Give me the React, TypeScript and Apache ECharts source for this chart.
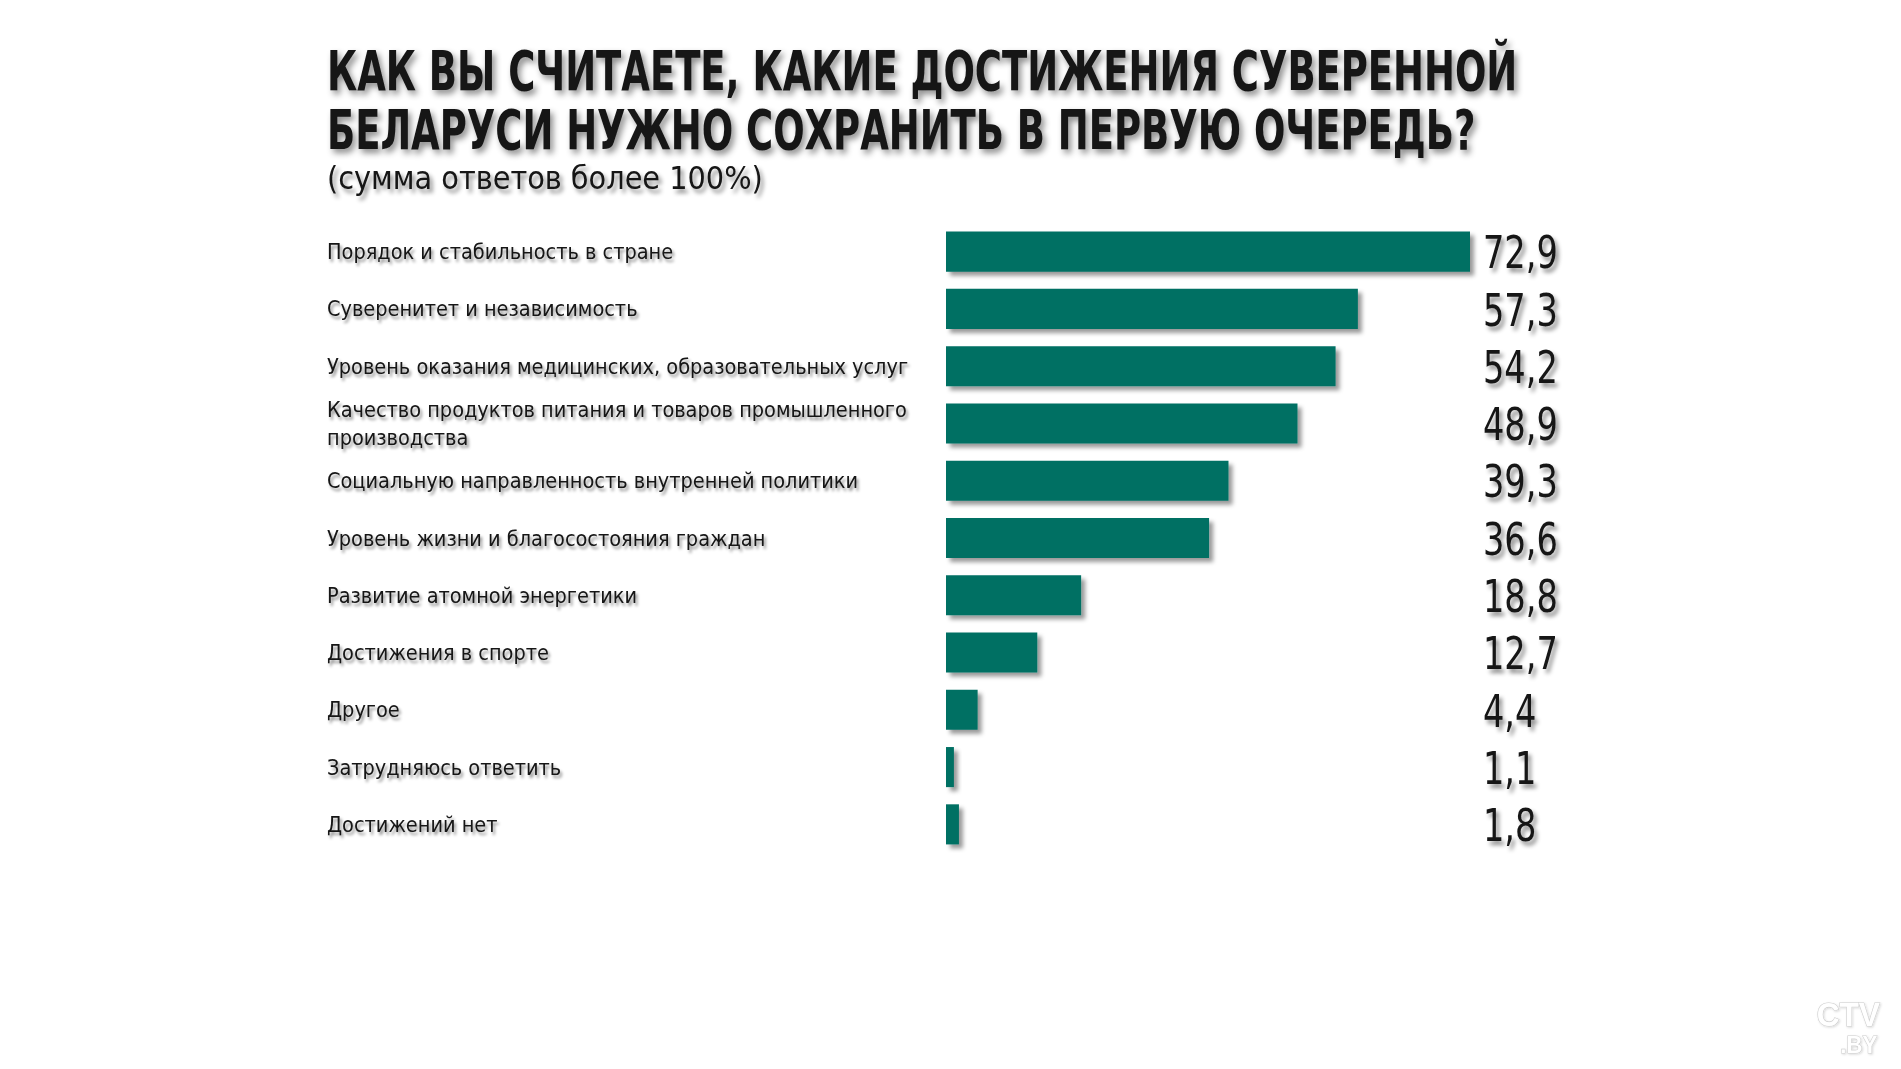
import React, { useEffect, useRef } from "react";
import * as echarts from "echarts";

const titleLines = [
  "КАК ВЫ СЧИТАЕТЕ, КАКИЕ ДОСТИЖЕНИЯ СУВЕРЕННОЙ",
  "БЕЛАРУСИ НУЖНО СОХРАНИТЬ В ПЕРВУЮ ОЧЕРЕДЬ?",
];
const subtitle = "(сумма ответов более 100%)";

const categories = [
  "Порядок и стабильность в стране",
  "Суверенитет и независимость",
  "Уровень оказания медицинских, образовательных услуг",
  "Качество продуктов питания и товаров промышленного\nпроизводства",
  "Социальную направленность внутренней политики",
  "Уровень жизни и благосостояния граждан",
  "Развитие атомной энергетики",
  "Достижения в спорте",
  "Другое",
  "Затрудняюсь ответить",
  "Достижений нет",
];

const values = [72.9, 57.3, 54.2, 48.9, 39.3, 36.6, 18.8, 12.7, 4.4, 1.1, 1.8];

const valueLabels = values.map((v) => v.toFixed(1).replace(".", ","));

const FONT = '"DejaVu Sans Condensed", "DejaVu Sans", sans-serif';
const BAR_COLOR = "#006f63";
const TEXT_COLOR = "#141414";

const textShadow = {
  textShadowColor: "rgba(0,0,0,0.45)",
  textShadowBlur: 4,
  textShadowOffsetX: 3,
  textShadowOffsetY: 4,
};

export default function App() {
  const ref = useRef<HTMLDivElement>(null);

  useEffect(() => {
    document.body.style.margin = "0";
    if (!ref.current) return;
    const chart = echarts.init(ref.current, undefined, { renderer: "svg" });
    const xMax = Math.max(...values);
    chart.setOption({
      animation: false,
      backgroundColor: "#ffffff",
      grid: {
        left: 946,
        top: 223,
        width: 524,
        height: 630,
        containLabel: false,
      },
      xAxis: {
        type: "value",
        min: 0,
        max: xMax,
        show: false,
      },
      yAxis: {
        type: "category",
        data: categories,
        inverse: true,
        position: "left",
        axisLine: {
          show: true,
          lineStyle: {
            color: "#1a1a1a",
            width: 1.5,
            shadowColor: "rgba(0,0,0,0.35)",
            shadowBlur: 3,
            shadowOffsetX: 2,
            shadowOffsetY: 2,
          },
        },
        axisTick: { show: false },
        splitLine: { show: false },
        axisLabel: {
          interval: 0,
          align: "left",
          margin: 619,
          padding: [0, 0, 8, 0],
          fontFamily: FONT,
          fontSize: 21.5,
          lineHeight: 28,
          color: TEXT_COLOR,
          textShadowColor: "rgba(0,0,0,0.45)",
          textShadowBlur: 3,
          textShadowOffsetX: 2,
          textShadowOffsetY: 3,
        },
      },
      series: [
        {
          type: "bar",
          data: values,
          barCategoryGap: "30%",
          itemStyle: {
            color: BAR_COLOR,
            shadowColor: "rgba(0,0,0,0.4)",
            shadowBlur: 4,
            shadowOffsetX: 4,
            shadowOffsetY: 4,
          },
          label: { show: false },
        },
        {
          type: "custom",
          clip: false,
          silent: true,
          data: values.map((v, i) => [v, i]),
          renderItem: (params: any, api: any) => {
            const idx = params.dataIndex;
            const pt = api.coord([xMax, api.value(1)]);
            return {
              type: "text",
              x: pt[0] + 13,
              y: pt[1] + 1.5,
              scaleX: 0.83,
              style: {
                text: valueLabels[idx],
                x: 0,
                y: 0,
                fontFamily: FONT,
                fontSize: 45,
                fill: TEXT_COLOR,
                align: "left",
                verticalAlign: "middle",
                ...textShadow,
              },
            };
          },
        },
      ],
      graphic: [
        ...titleLines.map((line, i) => ({
          type: "text",
          x: 327,
          y: 71 + i * 58.5,
          scaleX: 0.747,
          style: {
            text: line,
            fontFamily: FONT,
            fontSize: 55,
            fontWeight: "bold",
            fill: TEXT_COLOR,
            verticalAlign: "middle",
            align: "left",
            ...textShadow,
            textShadowBlur: 6,
          },
        })),
        {
          type: "text",
          x: 327,
          y: 178,
          style: {
            text: subtitle,
            fontFamily: FONT,
            fontSize: 32,
            fill: TEXT_COLOR,
            verticalAlign: "middle",
            align: "left",
            ...textShadow,
          },
        },
        {
          type: "text",
          x: 1880,
          y: 1000,
          scaleX: 0.96,
          style: {
            text: "{a|CTV}\n{b|.BY}",
            align: "right",
            verticalAlign: "top",
            fill: "#ffffff",
            stroke: "#cccccc",
            lineWidth: 1.2,
            fontFamily: '"DejaVu Sans", sans-serif',
            fontWeight: "bold",
            textShadowColor: "rgba(0,0,0,0.15)",
            textShadowBlur: 2,
            textShadowOffsetX: 1,
            textShadowOffsetY: 1,
            rich: {
              a: {
                fontSize: 33,
                lineHeight: 30,
                fontWeight: "bold",
                fill: "#ffffff",
                stroke: "#cccccc",
                lineWidth: 1.2,
              },
              b: {
                fontSize: 23,
                lineHeight: 31,
                fontWeight: "bold",
                fill: "#ffffff",
                stroke: "#cccccc",
                lineWidth: 1.1,
                padding: [0, 3, 0, 0],
              },
            },
          },
        },
      ],
    });
    return () => chart.dispose();
  }, []);

  return (
    <div
      ref={ref}
      style={{ position: "fixed", left: 0, top: 0, width: 1901, height: 1069 }}
    />
  );
}
